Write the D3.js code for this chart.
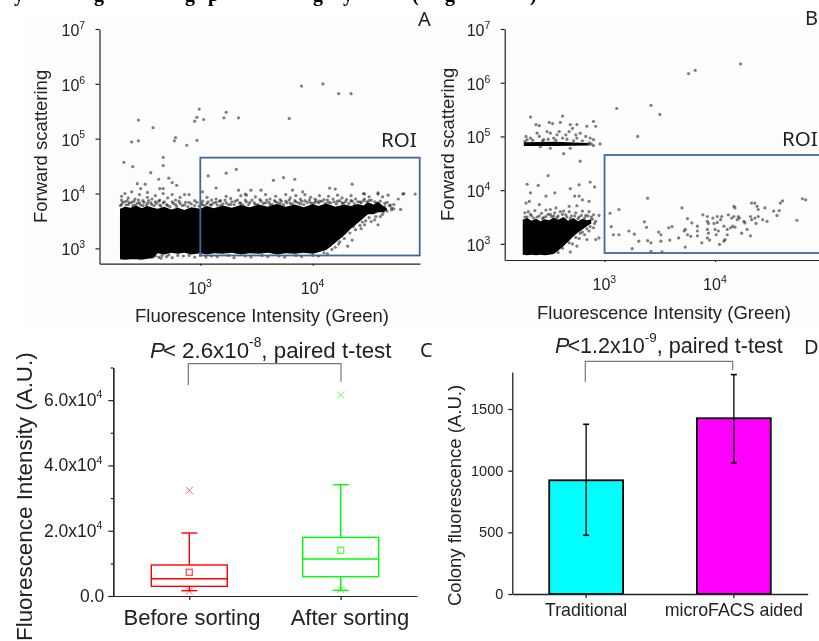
<!DOCTYPE html>
<html>
<head>
<meta charset="utf-8">
<script src="https://cdnjs.cloudflare.com/ajax/libs/d3/7.8.5/d3.min.js"></script>
<style>
  html, body { margin: 0; padding: 0; background: #fff; }
  svg { display: block; }
  text { font-family: "Liberation Sans", Arial, sans-serif; fill: #222; }
  .letter { font-family: "Noto Sans", sans-serif; }
</style>
</head>
<body>
<div id="chart"></div>
<script>
// Scatter values are log10 of the axis value.
// Events inside the solid black clouds can't be told apart, so the clouds are
// areas (x, low, high) and only the visible loose events are single points.
const decadesY = [1e3, 1e4, 1e5, 1e6, 1e7];
const decadesX = [1e3, 1e4];

// panel A
const aCloudX = [2.286, 2.33, 2.38, 2.43, 2.48, 2.53, 2.58, 2.62, 2.68, 2.74, 2.8, 2.86, 2.92, 3.0, 3.06, 3.12, 3.2, 3.28, 3.36, 3.44, 3.52, 3.6, 3.68, 3.76, 3.84, 3.92, 4.0, 4.05, 4.12, 4.2, 4.28, 4.34, 4.4, 4.45, 4.49, 4.54, 4.58, 4.62, 4.66];
const aCloudLow = [2.80, 2.79, 2.80, 2.80, 2.79, 2.81, 2.82, 2.91, 2.89, 2.92, 2.90, 2.92, 2.89, 2.91, 2.89, 2.91, 2.90, 2.92, 2.89, 2.91, 2.90, 2.92, 2.89, 2.91, 2.90, 2.92, 2.90, 2.93, 2.97, 3.1, 3.24, 3.36, 3.46, 3.55, 3.62, 3.62, 3.66, 3.66, 3.70];
const aCloudHigh = [3.72, 3.76, 3.74, 3.78, 3.73, 3.77, 3.74, 3.72, 3.76, 3.71, 3.74, 3.70, 3.75, 3.72, 3.77, 3.73, 3.78, 3.74, 3.79, 3.75, 3.80, 3.76, 3.81, 3.76, 3.80, 3.75, 3.81, 3.77, 3.82, 3.76, 3.80, 3.77, 3.81, 3.78, 3.84, 3.80, 3.85, 3.78, 3.72];
const aLoose = [[3.90,5.96],[4.09,6.00],[4.23,5.82],[4.34,5.82],[3.79,5.37],[3.34,5.38],[3.23,5.48],[3.21,5.38],[2.99,5.54],[2.97,5.39],
  [3.03,5.35],[2.95,5.32],[2.45,5.34],[2.58,5.20],[2.78,5.02],[2.77,4.96],[2.88,4.88],[2.97,4.97],[2.39,4.94],[2.45,4.96],
  [2.32,4.57],[2.40,4.49],[2.67,4.66],[2.67,4.51],[2.56,4.38],[2.63,4.26],[2.72,4.28],[2.75,4.20],[2.79,4.15],[2.44,4.18],
  [2.51,4.17],[2.47,4.09],[2.64,4.09],[2.67,4.09],[3.07,4.32],[3.23,4.37],[3.32,4.44],[3.65,4.24],[3.74,4.29],[3.84,4.26],
  [4.35,4.17],[3.14,4.10],[4.91,3.99],[4.81,4.00],[4.58,4.01],[4.20,4.08],[4.15,4.10],[3.41,3.97],[3.34,4.06],[3.45,4.06],
  [3.54,4.06],[3.82,4.06],[3.91,4.03],[4.45,4.00]];
const aEdge = [[2.30,3.95],[2.30,3.88],[2.30,3.80],[2.33,4.00],[2.33,3.85],[2.36,3.92],[2.36,3.80],[2.39,4.03],[2.39,3.84],[2.42,3.90],
  [2.42,3.79],[2.46,3.98],[2.46,3.83],[2.49,3.87],[2.49,3.78],[2.53,4.02],[2.53,3.93],[2.53,3.82],[2.57,3.90],[2.57,3.80],
  [2.60,3.96],[2.60,3.85],[2.64,3.88],[2.64,3.79],[2.67,4.00],[2.67,3.83],[2.71,3.92],[2.71,3.78],[2.75,3.98],[2.75,3.85],
  [2.78,3.88],[2.78,3.80],[2.82,3.93],[2.82,3.82],[2.86,3.98],[2.86,3.79],[2.90,3.98],[2.90,3.84],[2.95,3.87],[2.95,3.78],
  [3.02,4.03],[3.02,3.86],[3.02,3.79],[3.06,3.93],[3.06,3.82],[3.10,3.88],[3.10,3.80],[3.14,3.90],[3.14,3.84],[3.18,3.87],
  [3.18,3.78],[3.23,3.95],[3.23,3.83],[3.27,3.91],[3.27,3.80],[3.31,3.86],[3.36,3.96],[3.36,3.82],[3.40,3.99],[3.40,3.88],
  [3.44,3.84],[3.49,3.94],[3.49,3.80],[3.53,3.89],[3.58,3.98],[3.58,3.83],[3.62,3.90],[3.62,3.80],[3.67,3.95],[3.67,3.85],
  [3.71,3.89],[3.71,3.81],[3.76,3.98],[3.76,3.86],[3.80,3.92],[3.80,3.82],[3.85,3.96],[3.85,3.85],[3.89,3.90],[3.89,3.81],
  [3.93,3.98],[3.93,3.87],[3.98,3.93],[3.98,3.83],[4.02,3.90],[4.02,3.84],[4.06,3.96],[4.06,3.86],[4.10,3.89],[4.14,3.95],
  [4.14,3.84],[4.18,3.90],[4.22,3.97],[4.22,3.86],[4.26,3.92],[4.26,3.83],[4.30,3.89],[4.34,3.96],[4.34,3.87],[4.38,3.90],
  [4.42,3.85],[4.46,3.99],[4.46,3.90],[4.50,3.94],[4.50,3.87],[4.57,3.83],[4.58,3.99],[4.62,3.94],[4.67,3.97],[4.76,3.90],
  [4.80,3.99],[4.69,3.79],[4.64,3.76],[4.63,3.67],[4.70,3.70],[4.78,3.71],[4.66,3.84],[4.72,3.80],[4.60,3.58],[4.58,3.43],
  [4.55,3.52],[4.52,3.49],[4.46,3.43],[4.43,3.36],[4.35,3.15],[4.31,3.04],[4.24,3.12],[4.20,3.02],[4.13,2.90],[4.05,2.86],
  [3.90,2.85],[3.75,2.84],[3.60,2.85],[3.45,2.84],[3.30,2.83],[3.15,2.85],[3.05,2.84],[2.95,2.84],[2.85,2.86],[2.75,2.83],
  [2.70,2.85],[2.65,2.82],[2.60,2.86]];
const aEdgeDense = [[2.29,3.78],[2.31,3.84],[2.34,3.79],[2.35,3.87],[2.37,3.83],[2.40,3.78],[2.41,3.86],[2.44,3.82],[2.45,3.88],[2.47,3.79],
  [2.50,3.84],[2.52,3.78],[2.54,3.87],[2.56,3.83],[2.59,3.78],[2.61,3.82],[2.63,3.86],[2.65,3.77],[2.68,3.85],[2.70,3.80],
  [2.73,3.76],[2.76,3.82],[2.79,3.76],[2.81,3.86],[2.84,3.78],[2.87,3.84],[2.89,3.76],[2.92,3.81],[2.97,3.84],[2.99,3.77],
  [3.01,3.82],[3.04,3.78],[3.07,3.85],[3.09,3.79],[3.12,3.83],[3.15,3.79],[3.17,3.86],[3.20,3.81],[3.22,3.88],[3.25,3.80],
  [3.28,3.85],[3.30,3.80],[3.33,3.88],[3.35,3.83],[3.38,3.79],[3.41,3.85],[3.43,3.80],[3.46,3.88],[3.48,3.83],[3.51,3.80],
  [3.54,3.86],[3.56,3.82],[3.59,3.88],[3.61,3.84],[3.64,3.80],[3.66,3.87],[3.69,3.83],[3.72,3.86],[3.74,3.80],[3.77,3.83],
  [3.79,3.88],[3.82,3.81],[3.84,3.87],[3.87,3.83],[3.90,3.86],[3.92,3.80],[3.95,3.84],[3.97,3.88],[4.00,3.82],[4.03,3.87],
  [4.05,3.83],[4.08,3.86],[4.11,3.82],[4.13,3.88],[4.16,3.83],[4.19,3.85],[4.21,3.81],[4.24,3.87],[4.27,3.82],[4.29,3.85],
  [4.32,3.82],[4.35,3.86],[4.37,3.81],[4.40,3.85],[4.43,3.83],[4.45,3.87],[4.48,3.85],[4.52,3.88],[4.55,3.85],[4.60,3.86],
  [4.64,3.82],[4.68,3.78],[4.70,3.74],[4.72,3.72],[4.66,3.68],[4.62,3.62],[4.56,3.58],[4.50,3.56],[4.47,3.50],[4.42,3.42],
  [4.38,3.34],[4.33,3.28],[4.28,3.18],[4.23,3.08],[4.17,2.98],[4.10,2.92],[4.15,3.05],[4.25,3.22],[4.36,3.40],[4.44,3.48],
  [4.00,2.87],[3.85,2.87],[3.70,2.86],[3.55,2.87],[3.40,2.86],[3.25,2.87],[3.10,2.86],[3.00,2.87],[2.90,2.87],[2.80,2.87],
  [2.72,2.88],[2.66,2.87],[2.63,2.84]];

// panel B
const bCloudX = [2.26, 2.30, 2.34, 2.38, 2.42, 2.46, 2.50, 2.54, 2.58, 2.63, 2.67, 2.72, 2.76, 2.80, 2.84, 2.88];
const bCloudLow = [2.80, 2.79, 2.80, 2.79, 2.80, 2.79, 2.80, 2.81, 2.87, 2.96, 3.04, 3.14, 3.21, 3.27, 3.33, 3.38];
const bCloudHigh = [3.45, 3.48, 3.43, 3.47, 3.42, 3.46, 3.44, 3.49, 3.45, 3.50, 3.43, 3.48, 3.42, 3.47, 3.44, 3.46];
const bBandX = [2.27, 2.55, 2.85];
const bBandLow = [4.82, 4.82, 4.83];
const bBandHigh = [4.89, 4.90, 4.88];
const bLoose = [[3.05,3.57],[3.13,3.64],[3.06,3.32],[3.08,3.17],[3.13,3.17],[3.22,3.24],[3.27,3.18],[3.25,2.91],[3.31,3.05],[3.36,3.41],
  [3.38,3.31],[3.39,3.06],[3.42,3.02],[3.42,2.86],[3.39,3.85],[3.49,3.22],[3.51,3.17],[3.51,3.05],[3.52,2.85],[3.58,3.30],
  [3.61,3.32],[3.59,3.07],[3.67,3.11],[3.70,3.67],[3.73,2.94],[3.72,3.24],[3.73,3.27],[3.75,3.47],[3.79,3.39],[3.75,3.17],
  [3.78,3.14],[3.84,3.33],[3.84,3.24],[3.84,3.15],[3.89,3.54],[3.88,3.02],[3.93,3.51],[3.93,3.42],[3.94,3.38],[3.93,3.27],
  [3.94,3.20],[3.93,3.11],[3.95,3.07],[3.98,3.48],[3.99,3.38],[4.00,3.27],[4.02,3.51],[4.02,3.40],[4.01,3.17],[4.03,3.24],
  [4.04,2.99],[4.05,3.45],[4.06,3.51],[4.08,3.33],[4.08,3.05],[4.09,3.08],[4.11,3.27],[4.12,3.54],[4.11,3.17],[4.14,3.30],
  [4.15,3.48],[4.16,3.33],[4.17,3.70],[4.18,3.67],[4.18,3.31],[4.17,3.51],[4.20,3.45],[4.21,3.51],[4.22,3.48],[4.24,3.20],
  [4.26,3.42],[4.27,3.39],[4.29,3.27],[4.32,3.15],[4.32,3.51],[4.33,3.76],[4.36,3.76],[4.33,3.45],[4.36,3.48],[4.37,3.38],
  [4.38,3.70],[4.39,3.64],[4.39,3.51],[4.43,3.45],[4.45,3.67],[4.47,3.42],[4.53,3.61],[4.56,3.53],[4.58,3.62],[4.59,3.76],
  [4.61,3.80],[4.74,3.44],[4.79,3.84],[4.82,3.82],
  [4.23,6.35],[3.76,6.17],[3.82,6.23],[3.11,5.52],[3.42,5.58],[3.50,5.41],[3.30,5.00],[2.96,4.86]];
const bEdge = [[2.78,4.54],[2.49,4.27],[2.30,4.11],[2.40,4.09],[2.33,3.95],[2.47,3.89],[2.55,3.95],[2.69,4.03],[2.77,4.10],[2.87,4.15],
  [2.91,4.06],[2.73,3.89],[2.77,3.89],[2.80,3.82],[2.86,3.79],[2.29,3.76],[2.32,3.79],[2.41,3.73],[2.47,3.63],[2.51,3.64],
  [2.56,3.67],[2.63,3.61],[2.68,3.70],[2.75,3.71],[2.90,3.54],[2.95,3.53],[2.95,3.11],[2.92,3.08],[2.84,3.08],[2.75,2.96],
  [2.69,2.85],[2.78,3.20],[2.28,3.58],[2.28,3.50],[2.31,3.60],[2.34,3.52],[2.37,3.62],[2.39,3.50],[2.43,3.57],[2.45,3.49],
  [2.49,3.55],[2.52,3.51],[2.55,3.58],[2.58,3.52],[2.60,3.60],[2.65,3.54],[2.68,3.60],[2.70,3.52],[2.74,3.58],[2.77,3.50],
  [2.80,3.61],[2.83,3.53],[2.86,3.60],[2.88,3.50],[2.92,3.42],[2.90,3.30],[2.86,3.24],[2.82,3.17],[2.77,3.10],[2.71,3.00],
  [2.30,3.50],[2.33,3.55],[2.36,3.48],[2.41,3.52],[2.44,3.47],[2.47,3.51],[2.51,3.55],[2.54,3.52],[2.57,3.49],[2.62,3.55],
  [2.66,3.50],[2.69,3.47],[2.73,3.52],[2.76,3.47],[2.79,3.53],[2.82,3.48],[2.85,3.52],[2.89,3.46],[2.91,3.38],[2.87,3.32],
  [2.84,3.28],[2.80,3.22],[2.74,3.12],[2.68,3.02],[2.62,2.92],[2.58,2.84]];
const bBandLoose = [[2.33,5.36],[2.38,5.22],[2.41,5.20],[2.50,5.26],[2.53,5.24],[2.62,5.38],[2.60,5.26],[2.69,5.22],[2.75,5.22],[2.84,5.19],
  [2.90,5.28],[2.92,5.19],[2.29,5.00],[2.30,4.94],[2.39,5.06],[2.41,5.00],[2.48,5.09],[2.51,5.06],[2.57,5.03],[2.59,5.09],
  [2.65,5.03],[2.68,5.09],[2.71,5.15],[2.74,5.03],[2.78,5.06],[2.83,5.00],[2.87,4.97],[2.90,4.94],[2.33,4.97],[2.45,4.94],
  [2.54,4.97],[2.62,4.97],[2.75,4.97],[2.86,4.85],[2.90,4.83],[2.51,4.78],[2.63,4.68],[2.42,4.81],[2.69,4.78],
  [2.28,4.91],[2.35,4.93],[2.44,4.92],[2.49,4.95],[2.56,4.93],[2.66,4.95],[2.72,4.92],[2.80,4.92],[2.86,4.88],[2.88,4.86]];

// panel C
const boxGroups = ['Before sorting', 'After sorting'];
const boxColors = ['#ff0000', '#00ff00'];
const boxQ1 = [2960, 5920];
const boxMedian = [5300, 11330];
const boxQ3 = [9500, 17960];
const boxMean = [7250, 13980];
const boxWhiskerLow = [1630, 1735];
const boxWhiskerHigh = [19300, 34100];
const boxOutlierLow = [1500, 1940];
const boxOutlierHigh = [32360, 61560];
const boxTicks = [0, 20000, 40000, 60000];
const boxMinorTicks = [10000, 30000, 50000, 70000];
const boxTickLabels = ['0.0', '2.0x10', '4.0x10', '6.0x10'];

// panel D
const barGroups = ['Traditional', 'microFACS aided'];
const barColors = ['#00ffff', '#ff00ff'];
const barValues = [922, 1425];
const barErrLow = [476, 1062];
const barErrHigh = [1376, 1779];
const barTicks = [0, 500, 1000, 1500];

const svg = d3.select('#chart').append('svg')
  .attr('width', 819).attr('height', 641);

const defs = svg.append('defs');
defs.append('filter').attr('id', 'soft')
  .append('feGaussianBlur').attr('stdDeviation', 0.5);

const root = svg.append('g').attr('filter', 'url(#soft)');

root.append('rect').attr('x', 28).attr('y', 14).attr('width', 791).attr('height', 316).attr('fill', '#fdfdfd');

// tail end of the line of text above the figure, cut off by the crop
const cutLetters = ['y', 'g', 'g', 'p', 'g', 'y', '(', 'g', ')'];
const cutLetterX = [14, 94, 185, 208, 313, 343, 412, 445, 530];
root.selectAll('.cut').data(cutLetters).enter().append('text')
  .attr('x', (d, i) => cutLetterX[i]).attr('y', 1)
  .style('font-family', '"Liberation Serif", serif').style('font-weight', 'bold')
  .style('font-size', '20px').style('fill', '#000')
  .text(d => d);

function sup(sel, base, exp, size, supSize) {
  sel.style('font-size', size + 'px');
  sel.append('tspan').text(base);
  sel.append('tspan').attr('dy', -size * 0.45).style('font-size', supSize + 'px').text(exp);
}

function scatterPanel(o) {
  const x = d3.scaleLog().domain(o.xDomain).range([o.left, o.right]);
  const y = d3.scaleLog().domain([Math.pow(10, o.yMin), 1e7]).range([o.bottom, 29]);
  const g = root.append('g');

  const area = d3.area()
    .x(d => x(Math.pow(10, d[0])))
    .y0(d => y(Math.pow(10, d[1])))
    .y1(d => y(Math.pow(10, d[2])));

  o.clouds.forEach(c => {
    g.append('path').attr('d', area(d3.zip(c[0], c[1], c[2]))).attr('fill', '#000');
  });

  g.selectAll('.dot').data(o.points).enter().append('circle')
    .attr('cx', d => x(Math.pow(10, d[0])))
    .attr('cy', d => y(Math.pow(10, d[1])))
    .attr('r', 1.6)
    .attr('fill', '#000')
    .attr('fill-opacity', 0.5);

  // ROI box
  g.append('rect')
    .attr('x', x(1e3)).attr('y', y(Math.pow(10, 4.654)))
    .attr('width', o.roiRight - x(1e3))
    .attr('height', y(Math.pow(10, o.roiLow)) - y(Math.pow(10, 4.654)))
    .attr('fill', 'none').attr('stroke', '#3f6a9b').attr('stroke-width', 1.8);

  const ax = g.append('g').attr('transform', `translate(0,${o.bottom})`)
    .call(d3.axisBottom(x).tickValues(decadesX).tickFormat('').tickSize(2).tickSizeOuter(0));
  const ay = g.append('g').attr('transform', `translate(${o.left},0)`)
    .call(d3.axisLeft(y).tickValues(decadesY).tickFormat('').tickSize(4).tickSizeOuter(0));
  [ax, ay].forEach(a => a.selectAll('path,line').attr('stroke', '#222').attr('stroke-width', 1.2));

  decadesY.forEach(v => {
    g.append('text').attr('x', o.left - 38).attr('y', y(v) + 7)
      .call(sup, '10', Math.round(Math.log10(v)), 16, 10.5);
  });
  decadesX.forEach(v => {
    g.append('text').attr('x', x(v) - 12).attr('y', o.xTickY)
      .call(sup, '10', Math.round(Math.log10(v)), 16, 10.5);
  });

  g.append('text').attr('x', o.xLabelX).attr('y', o.xLabelY)
    .style('font-size', '18.5px').text('Fluorescence Intensity (Green)');
  g.append('text').attr('transform', `translate(${o.yLabelX},${o.yLabelY}) rotate(-90)`)
    .style('font-size', '18.5px').text('Forward scattering');

  g.append('text').attr('class', 'letter').attr('x', o.roiTextX).attr('y', o.roiTextY)
    .style('font-size', '20.5px').text('ROI');
}

scatterPanel({
  left: 99.5, right: 420, bottom: 263.7, yMin: 2.72, xDomain: [Math.pow(10, 2.104), Math.pow(10, 4.953)],
  clouds: [[aCloudX, aCloudLow, aCloudHigh]], points: aLoose.concat(aEdge, aEdgeDense),
  roiRight: 419.7, roiLow: 2.87, xTickY: 294, xLabelX: 135, xLabelY: 321.5, yLabelX: 47, yLabelY: 223,
  roiTextX: 381, roiTextY: 147
});
scatterPanel({
  left: 504.7, right: 819, bottom: 260, yMin: 2.70, xDomain: [Math.pow(10, 2.097), Math.pow(10, 4.94)],
  clouds: [[bCloudX, bCloudLow, bCloudHigh], [bBandX, bBandLow, bBandHigh]], points: bLoose.concat(bEdge, bBandLoose),
  roiRight: 825, roiLow: 2.83, xTickY: 290, xLabelX: 537, xLabelY: 319, yLabelX: 454, yLabelY: 221,
  roiTextX: 782, roiTextY: 146
});

// ---- panel C
const xBox = d3.scalePoint().domain(boxGroups).range([189.3, 340.7]);
const yBox = d3.scaleLinear().domain([0, 70000]).range([596, 367.5]);
const gc = root.append('g');

const axCB = gc.append('g').attr('transform', 'translate(0,596)')
  .call(d3.axisBottom(d3.scaleLinear().domain([110, 417]).range([110, 417])).tickValues([]).tickSize(0));
const axCT = gc.append('g').attr('transform', 'translate(0,596)')
  .call(d3.axisBottom(xBox).tickFormat('').tickSize(4).tickSizeOuter(0));
const axCL = gc.append('g').attr('transform', 'translate(113.3,0)')
  .call(d3.axisLeft(yBox).tickValues(boxTicks).tickFormat('').tickSize(5).tickSizeOuter(0));
const axCM = gc.append('g').attr('transform', 'translate(113.3,0)')
  .call(d3.axisLeft(yBox).tickValues(boxMinorTicks).tickFormat('').tickSize(2.5).tickSizeOuter(0));
axCT.select('.domain').remove();
[axCB, axCT, axCL, axCM].forEach(a => a.selectAll('path,line').attr('stroke', '#222').attr('stroke-width', 1.2));

boxTicks.forEach((v, i) => {
  const t = gc.append('text').attr('y', yBox(v) + 6);
  if (i === 0) {
    t.attr('x', 80).style('font-size', '17.5px').text(boxTickLabels[i]);
  } else {
    t.attr('x', 44).call(sup, boxTickLabels[i], 4, 17.5, 10.5);
  }
});
const boxLabelX = [192, 350];
boxGroups.forEach((name, i) => {
  const cx = xBox(name), col = boxColors[i], b = gc.append('g');
  b.append('line').attr('x1', cx).attr('x2', cx).attr('y1', yBox(boxWhiskerHigh[i])).attr('y2', yBox(boxQ3[i])).attr('stroke', col);
  b.append('line').attr('x1', cx).attr('x2', cx).attr('y1', yBox(boxQ1[i])).attr('y2', yBox(boxWhiskerLow[i])).attr('stroke', col);
  [boxWhiskerHigh[i], boxWhiskerLow[i]].forEach(v => {
    b.append('line').attr('x1', cx - 8).attr('x2', cx + 8).attr('y1', yBox(v)).attr('y2', yBox(v)).attr('stroke', col);
  });
  b.append('rect').attr('x', cx - 38).attr('width', 76)
    .attr('y', yBox(boxQ3[i])).attr('height', yBox(boxQ1[i]) - yBox(boxQ3[i]))
    .attr('fill', 'none').attr('stroke', col);
  b.append('line').attr('x1', cx - 38).attr('x2', cx + 38).attr('y1', yBox(boxMedian[i])).attr('y2', yBox(boxMedian[i])).attr('stroke', col);
  b.append('rect').attr('x', cx - 3).attr('y', yBox(boxMean[i]) - 3).attr('width', 6).attr('height', 6)
    .attr('fill', 'none').attr('stroke', col).attr('stroke-opacity', 0.65);
  [boxOutlierHigh[i], boxOutlierLow[i]].forEach(v => {
    b.append('path').attr('d', d3.symbol(d3.symbolTimes, 34)())
      .attr('transform', `translate(${cx},${yBox(v)})`)
      .attr('fill', 'none').attr('stroke', col).attr('stroke-opacity', 0.6);
  });
  b.selectAll('line,rect').attr('stroke-width', 1.4);
  gc.append('text').attr('x', boxLabelX[i]).attr('y', 625).attr('text-anchor', 'middle')
    .style('font-size', '22px').text(name);
});
gc.append('text').attr('transform', 'translate(32,641) rotate(-90)')
  .style('font-size', '22.4px').text('Fluorescence Intensity (A.U.)');

// ---- panel D
const xBar = d3.scaleBand().domain(barGroups).range([512.3, 807.7]).paddingInner(0.5).paddingOuter(0.25);
const yBar = d3.scaleLinear().domain([0, 1800]).range([594, 372]);
const gd = root.append('g');

gd.selectAll('.bar').data(barGroups).enter().append('rect')
  .attr('x', d => xBar(d)).attr('width', xBar.bandwidth())
  .attr('y', (d, i) => yBar(barValues[i]))
  .attr('height', (d, i) => yBar(0) - yBar(barValues[i]))
  .attr('fill', (d, i) => barColors[i])
  .attr('stroke', '#000').attr('stroke-width', 1.8);

barGroups.forEach((name, i) => {
  const cx = xBar(name) + xBar.bandwidth() / 2;
  gd.append('line').attr('x1', cx).attr('x2', cx)
    .attr('y1', yBar(barErrLow[i])).attr('y2', yBar(barErrHigh[i]))
    .attr('stroke', '#000').attr('stroke-width', 1.3);
  [barErrLow[i], barErrHigh[i]].forEach(v => {
    gd.append('line').attr('x1', cx - 3).attr('x2', cx + 3).attr('y1', yBar(v)).attr('y2', yBar(v))
      .attr('stroke', '#000').attr('stroke-width', 1.6);
  });
});

const axDB = gd.append('g').attr('transform', 'translate(0,594)')
  .call(d3.axisBottom(xBar).tickFormat('').tickSize(4).tickSizeOuter(0));
const axDL = gd.append('g').attr('transform', 'translate(512.3,0)')
  .call(d3.axisLeft(yBar).tickValues(barTicks).tickFormat(d3.format('d')).tickSize(4).tickSizeOuter(0));
[axDB, axDL].forEach(a => a.selectAll('path,line').attr('stroke', '#222').attr('stroke-width', 1.3));
axDL.selectAll('text').style('font-size', '14.5px').attr('dx', -2)
  .style('font-family', '"Liberation Sans", Arial, sans-serif').style('fill', '#222');

barGroups.forEach(name => {
  gd.append('text').attr('x', xBar(name) + xBar.bandwidth() / 2).attr('y', 616).attr('text-anchor', 'middle')
    .style('font-size', '17.8px').text(name);
});
gd.append('text').attr('transform', 'translate(461,606) rotate(-90)')
  .style('font-size', '18.5px').text('Colony fluorescence (A.U.)');

// ---- P value brackets and titles
const bracket = d3.line();
root.append('path').attr('d', bracket([[188.3, 385], [188.3, 363.7], [341, 363.7], [341, 381.7]]))
  .attr('fill', 'none').attr('stroke', '#777').attr('stroke-width', 1.2);
root.append('path').attr('d', bracket([[585.3, 381.7], [585.3, 361.3], [732.7, 361.3], [732.7, 370]]))
  .attr('fill', 'none').attr('stroke', '#777').attr('stroke-width', 1.2);

function pTitle(x, y, size, head, exp) {
  const t = root.append('text').attr('x', x).attr('y', y).style('font-size', size + 'px');
  t.append('tspan').style('font-style', 'italic').text('P');
  t.append('tspan').attr('dx', -2).text(head);
  t.append('tspan').attr('dy', -size * 0.5).style('font-size', size * 0.62 + 'px').text(exp);
  t.append('tspan').attr('dy', size * 0.5).text(', paired t-test');
}
pTitle(150, 358, 22.3, '< 2.6x10', '-8');
pTitle(555, 353, 21.6, '<1.2x10', '-9');

// ---- panel letters
const letters = ['A', 'B', 'C', 'D'];
const letterX = [418, 805, 420, 804];
const letterY = [26, 25, 357, 354];
letters.forEach((d, i) => {
  root.append('text').attr('class', 'letter').attr('x', letterX[i]).attr('y', letterY[i])
    .style('font-size', '20px').text(d);
});
</script>
</body>
</html>
